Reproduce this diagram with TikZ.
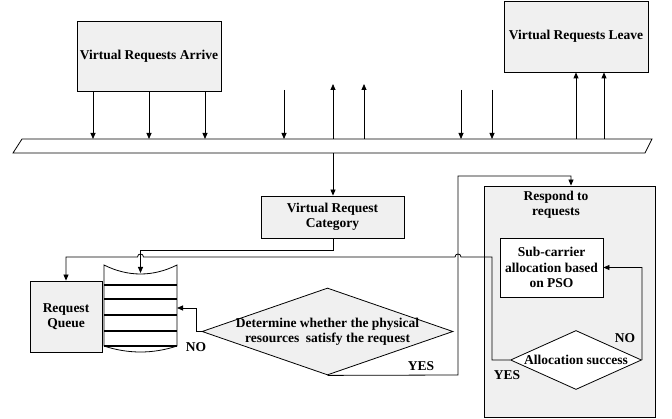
\documentclass[tikz,border=0pt]{standalone}
\usepackage{fontspec}
\setmainfont{Liberation Serif}
\usetikzlibrary{arrows.meta,shapes.geometric,positioning}
\tikzset{>={Triangle[length=6pt,width=5pt]}}
\tikzstyle{boldtext}=[font=\fontsize{13.5}{15.3}\selectfont\bfseries,align=center]
\tikzstyle{procbox}=[boldtext,draw,fill=black!6,inner sep=1pt]
\tikzstyle{decision}=[draw,diamond,fill=black!6,inner sep=0pt]
\tikzstyle{answer}=[boldtext,inner sep=0pt]

\begin{document}
\begin{tikzpicture}[x=1pt,y=-1pt,line width=0.8pt]
  \useasboundingbox (0,0) rectangle (672,419);

    % arrival and departure
    \node[procbox,minimum width=144pt,minimum height=70pt] (arrive) at (149,56) {Virtual Requests Arrive};
    \node[procbox,minimum width=144pt,minimum height=71pt] (leave) at (576,36.5) {Virtual Requests Leave};

    % time line
    \coordinate (bartl) at (22,139);
    \coordinate (bartr) at (652,139);
    \coordinate (barbr) at (645,153);
    \coordinate (barbl) at (13,153);
    \draw (bartl) -- (bartr) -- (barbr) -- (barbl) -- cycle;

    \foreach \x in {93,149,205}{
      \draw[->] (arrive.south -| \x,0) -- (\x,0 |- bartl);
    }
    \foreach \x in {284,461,492}{
      \draw[->] (\x,90) -- (\x,0 |- bartl);
    }
    \foreach \x in {333,364}{
      \draw[->] (\x,0 |- bartl) -- (\x,84);
    }
    \foreach \x in {576,604}{
      \draw[->] (\x,0 |- bartl) -- (leave.south -| \x,0);
    }

    % sorting
    \node[procbox,minimum width=143pt,minimum height=42pt] (category) at (332.5,217) {Virtual Request\\Category};
    \draw[->] (333,0 |- barbl) -- (category.north -| 333,0);

    \node[procbox,minimum width=72pt,minimum height=71pt] (reqqueue) at (66,316.5) {Request\\Queue};

    % waiting stack
    \coordinate (stacktop) at (140.5,273);
    \draw[fill=white] (104,265) .. controls (128,277) and (153,277) .. (177,265) -- (177,346)
      .. controls (153,354) and (128,354) .. (104,346) -- cycle;
    \foreach \y in {285,299,315,331,346}{
      \draw[line width=1.3pt] (104,\y) -- (177,\y);
    }
    \draw[->] (category.south -| 333,0) -- (333,250) -- (140.5,250) -- (stacktop);

    % resource check
    \node[decision,minimum width=251pt,minimum height=87pt] (determine) at (327.5,331.5) {};
    \node[boldtext,inner sep=0pt] (determinetxt) at (determine.center) {Determine whether the physical\\resources\ \ satisfy the request};
    \draw[->] (determine.west) -- (196,331.5) -- (196,308) -- (177,308);
    \node[answer] (no1) at (196,347) {NO};

    % response
    \node[procbox,minimum width=171pt,minimum height=231pt] (respond) at (569.5,301.5) {};
    \node[boldtext,inner sep=0pt] (respondtxt) at (556,204.5) {Respond to\\requests};
    \node[procbox,fill=white,minimum width=103pt,minimum height=59pt] (subcarrier) at (551.5,267.5) {Sub-carrier\\allocation based\\on PSO};
    \node[decision,fill=white,minimum width=131pt,minimum height=59pt] (alloc) at (576,360) {};
    \node[boldtext,inner sep=0pt] (alloctxt) at (alloc.center) {Allocation success};

    \draw[->] (determine.south) -- (458,375) -- (458,176) -- (571,176) -- (respond.north -| 571,0);
    \node[answer] (yes1) at (421,366) {YES};

    \draw[->] (alloc.east) -- (642,267.5) -- (subcarrier.east);
    \node[answer] (no2) at (625,338) {NO};

    \draw[->] (alloc.west) -- (492,360) -- (492,257) -- (461,257)
      .. controls (461,253) and (455,253) .. (455,257) -- (143.5,257)
      .. controls (143.5,253) and (137.5,253) .. (137.5,257) -- (66,257) -- (reqqueue.north);
    \node[answer] (yes2) at (507,375) {YES};

  \end{tikzpicture}
\end{document}
